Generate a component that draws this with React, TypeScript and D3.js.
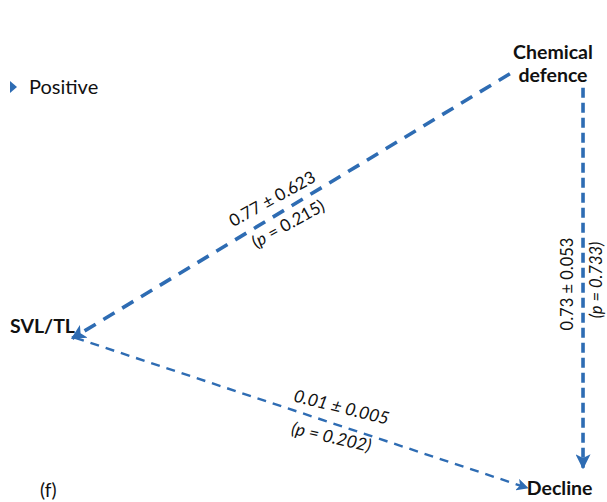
import React, { useRef, useEffect } from 'react';
import * as d3 from 'd3';

// path model: nodes and effects
const nodeNames = ['Chemical\ndefence', 'SVL/TL', 'Decline'];
const edgeFrom = [0, 1, 0];
const edgeTo = [1, 2, 2];
const estimates = ['0.77', '0.01', '0.73'];
const errors = ['0.623', '0.005', '0.053'];
const pValues = ['0.215', '0.202', '0.733'];
const legendLabels = ['Positive'];
const panelLabel = '(f)';

const W = 607;
const H = 502;
const BLUE = '#2e6cb3';

export default function App() {
  const ref = useRef<SVGSVGElement>(null);

  useEffect(() => {
    const svg = d3.select(ref.current);
    svg.selectAll('*').remove();

    // layout coordinates in a unit square
    const x = d3.scaleLinear().domain([0, 1]).range([0, W]);
    const y = d3.scaleLinear().domain([0, 1]).range([0, H]);

    // label anchor per node and line endpoints (indexed by edge)
    const labelPos = [[0.911, 0.1175], [0.07, 0.664], [0.922, 0.986]];
    const starts = [[0.84, 0.147], [0.124, 0.673], [0.9605, 0.175]];
    const ends = [[0.119, 0.674], [0.869, 0.972], [0.9605, 0.932]];
    const widths = [3.6, 2.4, 3.6];
    const dashes = ['13,9', '9,7', '10,5'];

    const defs = svg.append('defs');
    widths.forEach((w, i) => {
      defs.append('marker')
        .attr('id', `arr${i}`)
        .attr('viewBox', '0 0 10 10')
        .attr('refX', 9)
        .attr('refY', 5)
        .attr('markerUnits', 'userSpaceOnUse')
        .attr('markerWidth', i === 1 ? 12 : 15)
        .attr('markerHeight', i === 1 ? 12 : 15)
        .attr('orient', 'auto')
        .append('path')
        .attr('d', 'M0,0 L10,5 L0,10 L2.5,5 Z')
        .attr('fill', BLUE);
    });

    const font = 'Lato, "Open Sans", sans-serif';

    edgeFrom.forEach((f, i) => {
      const [x1, y1] = [x(starts[i][0]), y(starts[i][1])];
      const [x2, y2] = [x(ends[i][0]), y(ends[i][1])];
      svg.append('line')
        .attr('x1', x1).attr('y1', y1)
        .attr('x2', x2).attr('y2', y2)
        .attr('stroke', BLUE)
        .attr('stroke-width', widths[i])
        .attr('stroke-dasharray', dashes[i])
        .attr('marker-end', `url(#arr${i})`);
    });

    // effect labels
    const effLabel = [
      { cx: 275, cy: 204, angle: -29, pcx: 291, pcy: 229, pangle: -29, pItalic: false, fs: 17 },
      { cx: 340, cy: 413, angle: 14, pcx: 330, pcy: 443, pangle: 13, pItalic: true, fs: 17.5 },
      { cx: 573, cy: 284, angle: -90, pcx: 602, pcy: 280, pangle: -90, pItalic: true, fs: 16.5 },
    ];
    effLabel.forEach((l, i) => {
      svg.append('text')
        .attr('transform', `translate(${l.cx},${l.cy}) rotate(${l.angle})`)
        .attr('text-anchor', 'middle')
        .attr('font-family', font)
        .attr('font-size', l.fs)
        .attr('font-style', i === 1 ? 'italic' : 'normal')
        .attr('fill', '#111')
        .text(`${estimates[i]} ± ${errors[i]}`);
      const t = svg.append('text')
        .attr('transform', `translate(${l.pcx},${l.pcy}) rotate(${l.pangle})`)
        .attr('text-anchor', 'middle')
        .attr('font-family', font)
        .attr('font-size', l.fs)
        .attr('font-style', l.pItalic ? 'italic' : 'normal')
        .attr('fill', '#111');
      t.append('tspan').text('(');
      t.append('tspan').attr('font-style', 'italic').text('p');
      t.append('tspan').text(` = ${pValues[i]})`);
    });

    // node labels
    nodeNames.forEach((n, i) => {
      const lines = n.split('\n');
      const t = svg.append('text')
        .attr('x', x(labelPos[i][0]))
        .attr('y', y(labelPos[i][1]))
        .attr('text-anchor', 'middle')
        .attr('font-family', font)
        .attr('font-weight', 'bold')
        .attr('font-size', 19.5)
        .attr('fill', '#111');
      lines.forEach((ln, j) => {
        t.append('tspan')
          .attr('x', x(labelPos[i][0]))
          .attr('dy', j === 0 ? 0 : 23)
          .text(ln);
      });
    });

    // legend
    const lg = svg.append('g').attr('transform', 'translate(10,87)');
    lg.append('path').attr('d', 'M0,-6 L7,0 L0,6 Z').attr('fill', BLUE);
    lg.append('text')
      .attr('x', 19).attr('y', 7)
      .attr('font-family', font)
      .attr('font-size', 20)
      .attr('fill', '#111')
      .text(legendLabels[0]);

    svg.append('text')
      .attr('x', 40).attr('y', 497)
      .attr('font-family', font)
      .attr('font-size', 19)
      .attr('fill', '#111')
      .text(panelLabel);
  }, []);

  return (
    <svg ref={ref} width={W} height={H}
      style={{ position: 'absolute', left: 0, top: 0, background: '#fff' }} />
  );
}
